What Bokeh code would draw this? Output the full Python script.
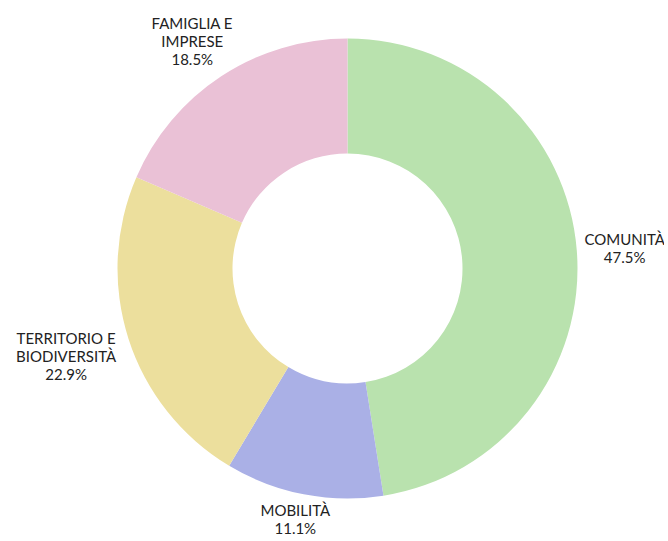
import math
from bokeh.plotting import figure
from bokeh.models import ColumnDataSource
from bokeh.core.properties import value
from bokeh.embed import file_html
from bokeh.resources import INLINE

categories = ["COMUNITÀ", "MOBILITÀ", "TERRITORIO E\nBIODIVERSITÀ", "FAMIGLIA E\nIMPRESE"]
shares = [47.5, 11.1, 22.9, 18.5]
colors = ["#b9e2ae", "#aab0e6", "#ecdf9d", "#eac1d6"]

W, H = 664, 541
cx, cy = 347, H - 268
R_OUT, R_IN = 230, 115

# label nudges in pixels (layout only)
nudge_x = [4, 0, -4, 0]
nudge_y = [0, 1, -7, 7]

total = sum(shares)
starts, ends, mids = [], [], []
acc = 0.0
for s in shares:
    a0 = math.pi / 2 - 2 * math.pi * acc / total
    acc += s
    a1 = math.pi / 2 - 2 * math.pi * acc / total
    starts.append(a1)
    ends.append(a0)
    mids.append((a0 + a1) / 2)

src = ColumnDataSource(dict(start=starts, end=ends, color=colors))

p = figure(width=W, height=H, x_range=(0, W), y_range=(0, H),
           output_backend="svg", toolbar_location=None, min_border=0)
p.axis.visible = False
p.grid.visible = False
p.outline_line_color = None
p.background_fill_color = "white"

p.annular_wedge(x=cx, y=cy, inner_radius=R_IN, outer_radius=R_OUT,
                start_angle="start", end_angle="end", fill_color="color",
                line_color=None, source=src)

# labels outside
lx, ly, lt = [], [], []
fs = 15
lh = 1.0
for i, (cat, s, m) in enumerate(zip(categories, shares, mids)):
    txt = f"{cat}\n{s:.1f}%"
    lines = txt.split("\n")
    w = max(len(l) for l in lines) * 14.5 * 0.6
    h = len(lines) * 14.5 * 1.15
    px = cx + R_OUT * 1.04 * math.cos(m)
    py = cy + R_OUT * 1.04 * math.sin(m)
    lx.append(px + w / 2 * math.cos(m) + nudge_x[i])
    ly.append(py + h / 2 * math.sin(m) + nudge_y[i])
    lt.append(txt)

lsrc = ColumnDataSource(dict(x=lx, y=ly, t=lt))
p.text(x="x", y="y", text="t", source=lsrc, text_align="center",
       text_baseline="middle", text_font=value("Lato"),
       text_font_size=f"{fs}px", text_color="#222222", text_line_height=lh)

open("out.html", "w").write(file_html(p, INLINE))
